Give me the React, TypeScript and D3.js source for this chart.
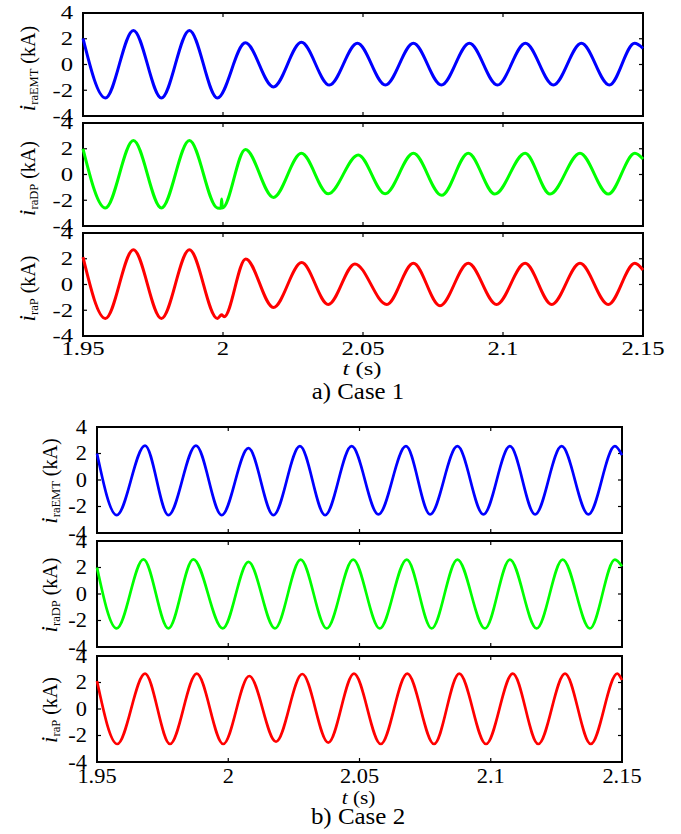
import React from "react";
import * as d3 from "d3";

// axis ticks
const xTicks = [1.95, 2, 2.05, 2.1, 2.15];
const xTickLabels = ["1.95", "2", "2.05", "2.1", "2.15"];
const yTicks = [-4, -2, 0, 2, 4];
const yTickLabels = ["-4", "-2", "0", "2", "4"];

const seriesSubs = ["raEMT", "raDP", "raP"];
const seriesColors = ["#0000ff", "#00ff00", "#ff0000"];
const caseTitles = ["a) Case 1", "b) Case 2"];

// values: [t (s), i (kA)] at start, troughs, peaks, end
const case1Emt: [number, number][] = [
  [1.95, 2.03], [1.958, -2.6], [1.968, 2.65], [1.978, -2.6], [1.988, 2.65],
  [1.998, -2.6], [2.008, 1.68], [2.018, -1.75], [2.028, 1.72], [2.038, -1.6],
  [2.048, 1.65], [2.058, -1.6], [2.068, 1.65], [2.078, -1.6], [2.088, 1.65],
  [2.098, -1.6], [2.108, 1.65], [2.118, -1.6], [2.128, 1.65], [2.138, -1.6],
  [2.147, 1.65], [2.15, 1.26],
];
const case1Dp: [number, number][] = [
  [1.95, 2.0], [1.958, -2.6], [1.968, 2.64], [1.978, -2.6], [1.988, 2.64],
  [1.998, -2.6], [1.9993, -2.62], [1.9995, -1.9], [1.9998, -2.6],
  [2.008, 1.95], [2.018, -1.78], [2.028, 1.65], [2.0376, -1.5], [2.0483, 1.52],
  [2.0579, -1.5], [2.068, 1.65], [2.0781, -1.62], [2.0876, 1.65], [2.0971, -1.52],
  [2.1079, 1.65], [2.1168, -1.52], [2.1275, 1.65], [2.1376, -1.52], [2.1471, 1.65],
  [2.15, 1.2],
];
const case1P: [number, number][] = [
  [1.95, 2.12], [1.958, -2.64], [1.968, 2.7], [1.978, -2.64], [1.988, 2.7],
  [1.998, -2.64], [1.9995, -2.35], [2.0004, -2.5],
  [2.0081, 1.99], [2.018, -1.78], [2.0281, 1.7], [2.0376, -1.55], [2.0471, 1.6],
  [2.0585, -1.55], [2.068, 1.65], [2.0775, -1.65], [2.0876, 1.65], [2.0977, -1.55],
  [2.1079, 1.65], [2.1174, -1.55], [2.1275, 1.65], [2.1376, -1.55], [2.1471, 1.65],
  [2.15, 1.13],
];

const case2Emt: [number, number][] = [
  [1.95, 2.0], [1.9575, -2.65], [1.9683, 2.6], [1.9772, -2.65], [1.9877, 2.6],
  [1.9975, -2.65], [2.0077, 2.4], [2.0172, -2.65], [2.0273, 2.55], [2.0369, -2.65],
  [2.047, 2.55], [2.0572, -2.6], [2.0677, 2.55], [2.0769, -2.6], [2.0873, 2.55],
  [2.0972, -2.6], [2.1073, 2.55], [2.1169, -2.6], [2.127, 2.55], [2.1372, -2.6],
  [2.1473, 2.55], [2.15, 1.88],
];
const case2Dp: [number, number][] = [
  [1.95, 2.0], [1.9575, -2.6], [1.9677, 2.62], [1.9772, -2.6], [1.9867, 2.62],
  [1.9979, -2.6], [2.0077, 2.42], [2.0178, -2.6], [2.0276, 2.6], [2.0375, -2.6],
  [2.0476, 2.6], [2.0577, -2.6], [2.068, 2.6], [2.0775, -2.6], [2.0873, 2.6],
  [2.0978, -2.6], [2.1073, 2.6], [2.1175, -2.6], [2.1274, 2.6], [2.1378, -2.6],
  [2.1473, 2.6], [2.15, 2.1],
];
const case2P: [number, number][] = [
  [1.95, 2.11], [1.9577, -2.64], [1.9683, 2.67], [1.9778, -2.64], [1.988, 2.67],
  [1.9981, -2.64], [2.008, 2.49], [2.0182, -2.47], [2.0282, 2.64], [2.0381, -2.54],
  [2.0479, 2.67], [2.0581, -2.64], [2.0682, 2.67], [2.0784, -2.64], [2.088, 2.67],
  [2.0982, -2.64], [2.1084, 2.67], [2.1181, -2.64], [2.1283, 2.67], [2.1381, -2.64],
  [2.1482, 2.67], [2.15, 2.19],
];

// layout of the two figure parts
const layouts = [
  {
    x0: 83, x1: 643, tops: [13, 123, 233], h: 103, series: [case1Emt, case1Dp, case1P],
    sx: 1.3, tickSize: 19, lineW: 3, titleX: 35, titleDy: 4,
    xLabelY: 355, axisTitleY: 375, captionY: 399, captionSize: 23, captionSx: 1.08,
  },
  {
    x0: 97, x1: 622, tops: [427, 541, 656], h: 106, series: [case2Emt, case2Dp, case2P],
    sx: 1.12, tickSize: 20, lineW: 2.7, titleX: 57, titleDy: 1,
    xLabelY: 783, axisTitleY: 804, captionY: 824, captionSize: 24, captionSx: 1.04,
  },
];

const FONT = "Liberation Serif";

function Stretched({ x, y, size, sx, anchor, children }: any) {
  return (
    <text
      transform={`translate(${x},${y}) scale(${sx},1)`}
      textAnchor={anchor}
      fontSize={size}
      fill="#000"
      style={{ fontFamily: FONT }}
    >
      {children}
    </text>
  );
}

function Part({ L, ci }: any) {
  const x = d3.scaleLinear().domain([1.95, 2.15]).range([L.x0, L.x1]);
  const mid = (L.x0 + L.x1) / 2 - 1;

  return (
    <g>
      {L.tops.map((top: number, k: number) => {
        const y = d3.scaleLinear().domain([-4, 4]).range([top + L.h, top]);
        const line = d3.line<[number, number]>()
          .x((d) => x(d[0]))
          .y((d) => y(d[1]))
          .curve(d3.curveMonotoneX);
        const cy = top + L.h / 2 + L.titleDy;
        return (
          <g key={k}>
            {/* panel frame */}
            <rect x={L.x0} y={top} width={L.x1 - L.x0} height={L.h} fill="none" stroke="#000" strokeWidth={2} />
            {/* inward ticks */}
            {xTicks.map((t) => (
              <g key={"xt" + t} stroke="#000" strokeWidth={1.2}>
                <line x1={x(t)} x2={x(t)} y1={top} y2={top + 4} />
                <line x1={x(t)} x2={x(t)} y1={top + L.h} y2={top + L.h - 4} />
              </g>
            ))}
            {yTicks.map((v) => (
              <g key={"yt" + v} stroke="#000" strokeWidth={1.2}>
                <line x1={L.x0} x2={L.x0 + 4} y1={y(v)} y2={y(v)} />
                <line x1={L.x1} x2={L.x1 - 4} y1={y(v)} y2={y(v)} />
              </g>
            ))}
            {/* y tick labels */}
            {yTicks.map((v, j) => (
              <Stretched key={"yl" + v} x={L.x0 - 10} y={y(v) + L.tickSize * 0.33} size={L.tickSize} sx={L.sx} anchor="end">
                {yTickLabels[j]}
              </Stretched>
            ))}
            {/* waveform */}
            <path
              d={line(L.series[k]) as string}
              fill="none"
              stroke={seriesColors[k]}
              strokeWidth={L.lineW}
              strokeLinejoin="round"
            />
            {/* rotated y title */}
            <text
              transform={`translate(${L.titleX},${cy}) rotate(-90)`}
              textAnchor="middle"
              fill="#000"
              style={{ fontFamily: FONT }}
            >
              <tspan fontStyle="italic" fontSize={23}>i</tspan>
              <tspan fontSize={12.5} dy={3}>{seriesSubs[k]}</tspan>
              <tspan fontSize={20} dy={-3}>{"\u00a0(kA)"}</tspan>
            </text>
          </g>
        );
      })}
      {/* x tick labels */}
      {xTicks.map((t, j) => (
        <Stretched key={"xl" + t} x={x(t)} y={L.xLabelY} size={L.tickSize} sx={L.sx} anchor="middle">
          {xTickLabels[j]}
        </Stretched>
      ))}
      {/* x axis title */}
      <Stretched x={mid} y={L.axisTitleY} size={19} sx={L.sx} anchor="middle">
        <tspan fontStyle="italic">t</tspan>
        <tspan>{" (s)"}</tspan>
      </Stretched>
      {/* caption */}
      <Stretched x={358} y={L.captionY} size={L.captionSize} sx={L.captionSx} anchor="middle">
        {caseTitles[ci]}
      </Stretched>
    </g>
  );
}

export default function App() {
  return (
    <svg width={681} height={834} style={{ position: "absolute", left: 0, top: 0, background: "#fff" }}>
      {layouts.map((L, ci) => (
        <Part key={ci} L={L} ci={ci} />
      ))}
    </svg>
  );
}
